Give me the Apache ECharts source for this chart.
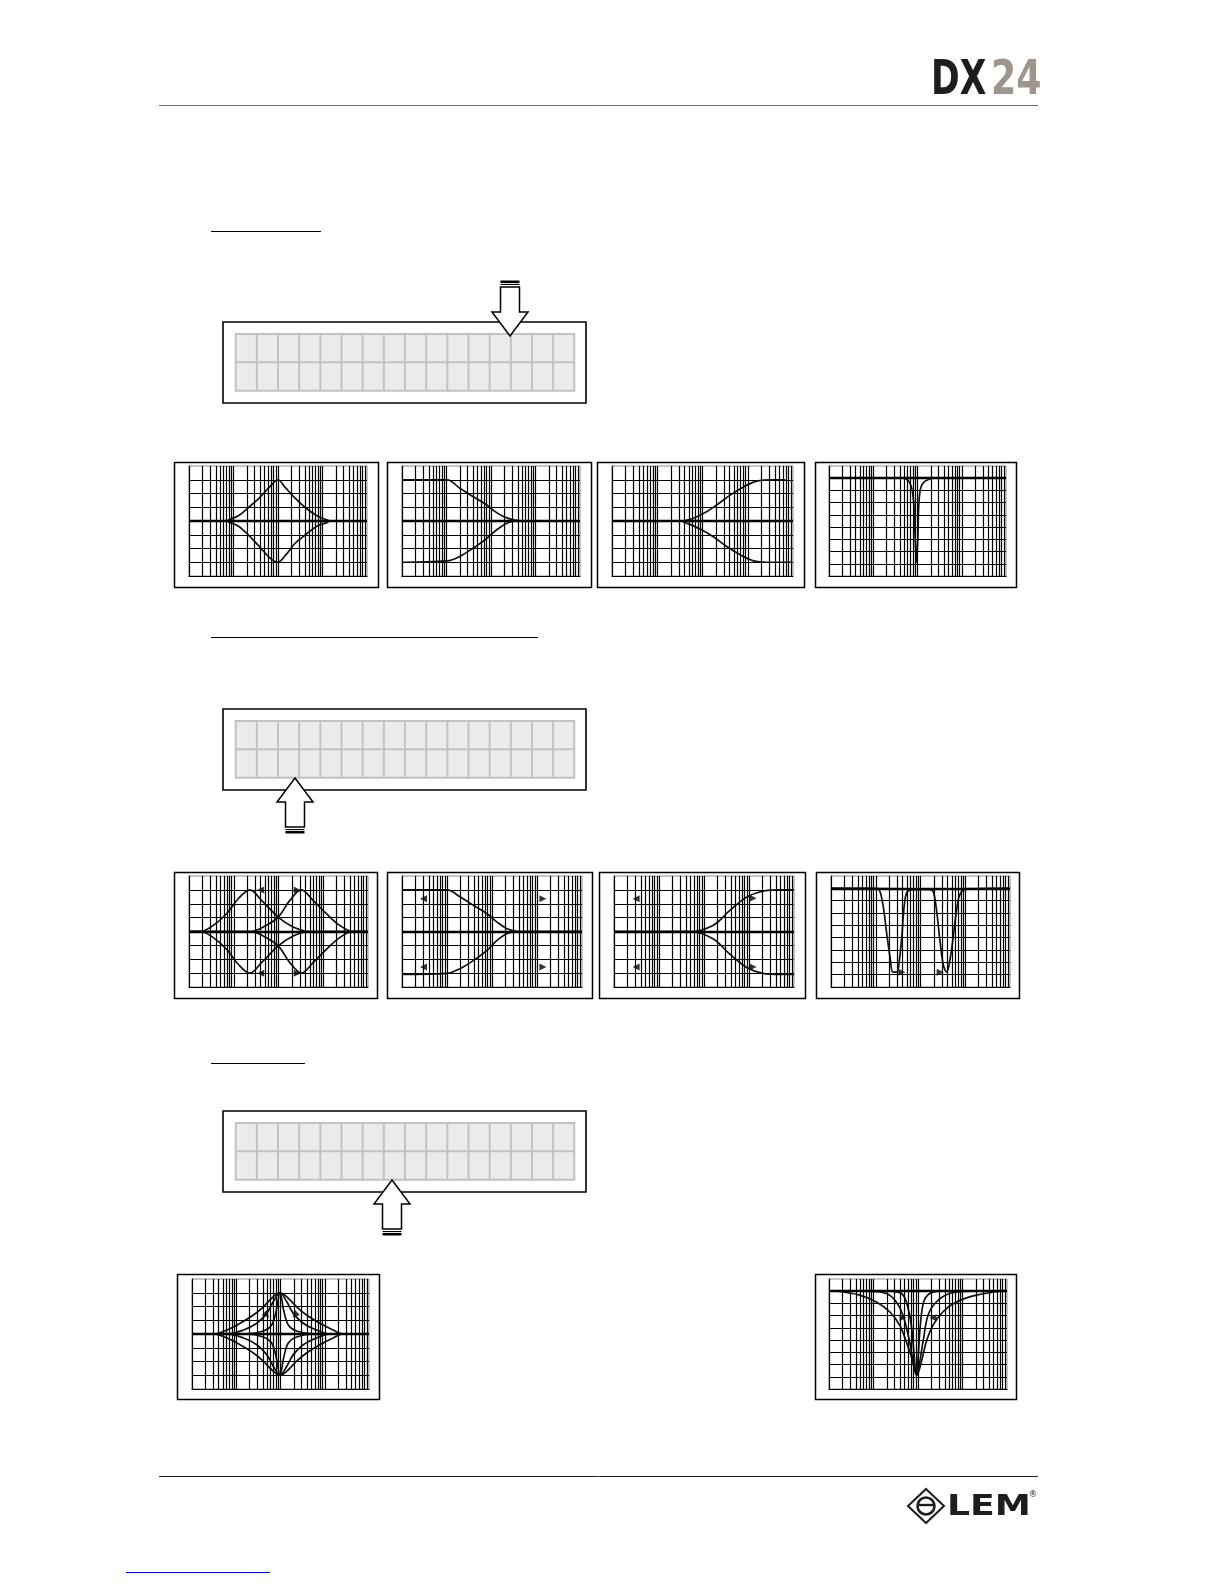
<!DOCTYPE html>
<html>
<head>
<meta charset="utf-8">
<title>DX24 - EQ</title>
<script src="https://cdn.jsdelivr.net/npm/echarts@6/dist/echarts.min.js"></script>
<style>
    html, body { margin: 0; padding: 0; background: #fff; }
    #page { width: 1224px; height: 1584px; }
</style>
</head>
<body>
<div id="page"></div>
<script>
// axes: frequency (Hz, log) and gain (dB)
var freqRange = [10, 100000];
var gainBell = [-20, 20];
var gainNotch = [-40, 5];
var gainStep = 5;

// row 1 : peaking, low shelf, high shelf, notch  [Hz, dB]
var r1BellBoost = [[10,0],[70,0],[84,0.6],[129,1.9],[217,4.9],[397,8.7],[666,12.6],[1000,15],[1450,12.2],[2430,8.3],[4090,4.9],[7490,1.9],[12570,0.4],[14930,0],[100000,0]];
var r1BellCut = [[10,0],[70,0],[84,-0.6],[129,-1.9],[217,-5.1],[397,-9.6],[666,-13.5],[1000,-15],[1450,-12.6],[2430,-8.1],[4090,-5.1],[7490,-1.9],[12570,-0.6],[14930,0],[100000,0]];
var r1LowShelfBoost = [[10,15],[102,15],[203,11.8],[405,8.8],[807,5.8],[1240,3.4],[1907,1.6],[3198,0.4],[5358,0],[100000,0]];
var r1LowShelfCut = [[10,-15],[102,-14.5],[203,-12.8],[405,-9.8],[807,-6.3],[1352,-3.2],[2265,-0.8],[3795,0],[100000,0]];
var r1HighShelfBoost = [[16,0],[317,0],[627,1.0],[1237,3.4],[2060,5.8],[4077,9.4],[8057,12.4],[15930,14.5],[31420,15],[67610,15]];
var r1HighShelfCut = [[16,0],[317,0],[446,-0.8],[880,-2.9],[1738,-5.7],[3434,-9.3],[6792,-12.3],[13430,-14.5],[26500,-15],[95050,-15]];
var r1Notch = [[10,0],[473,0],[615,-1.0],[731,-3.7],[826,-10.5],[885,-24.2],[949,-34.5],[1018,-24.2],[1072,-10.5],[1169,-4.4],[1391,-1.6],[1899,-0.3],[2264,0],[100000,0]];

// row 2 : two bands with sweep arrows
var r2BellLowBoost = [[10,0],[17.6,0],[34.9,2.2],[69.2,6.4],[126,11.8],[230,15],[418,11.2],[984,5.2],[2125,1.6],[4217,0.1],[5935,0],[100000,0]];
var r2BellLowCut = [[10,0],[17.6,0],[34.9,-2.2],[69.2,-6.4],[126,-11.8],[230,-15],[418,-11.2],[984,-5.2],[2125,-1.6],[4217,-0.1],[5935,0],[100000,0]];
var r2BellHighBoost = [[10,0],[230,0],[455,1.6],[984,5.2],[1791,11.2],[3258,15],[5935,11.2],[11780,6.4],[23360,2.2],[46350,0],[100000,0]];
var r2BellHighCut = [[10,0],[230,0],[455,-1.6],[984,-5.2],[1791,-11.2],[3258,-15],[5935,-11.2],[11780,-6.4],[23360,-2.2],[46350,0],[100000,0]];
var r2BellMarks = [[400,15,'left'],[2620,15,'right'],[400,-15,'left'],[2620,-15,'right']];
var r2LowShelfBoost = [[10,15],[100,15],[198,12.4],[391,9.4],[774,6.4],[1291,3.4],[2154,1.0],[3594,0.1],[5995,0],[100000,0]];
var r2LowShelfCut = [[10,-15.5],[100,-15.1],[198,-13.3],[391,-10.4],[774,-6.8],[1291,-3.2],[2154,-0.8],[3594,-0.1],[5995,0],[100000,0]];
var r2LowShelfMarks = [[30,11.8,'left'],[13500,11.8,'right'],[30,-12.8,'left'],[13500,-12.8,'right']];
var r2HighShelfBoost = [[10,0],[480,0],[1585,2.2],[3700,7.5],[8700,12.3],[20000,14.5],[48000,15],[100000,15]];
var r2HighShelfCut = [[10,0],[480,0],[1585,-2.6],[3700,-8.1],[8700,-12.9],[20000,-15.1],[48000,-15.5],[100000,-15.5]];
var r2HighShelfMarks = [[31,11.8,'left'],[12300,12,'right'],[31,-12.8,'left'],[12300,-12.8,'right']];
var r2NotchLow = [[10,0],[106,0],[126,-1.6],[150,-8.4],[178,-19.1],[211,-28.6],[241,-34],[297,-34],[340,-28.6],[384,-19.1],[433,-7.0],[496,-1.6],[641,-0.5],[1384,-0.3],[100000,0]];
var r2NotchHigh = [[10,0],[1644,-0.5],[1951,-1.6],[2314,-9.7],[2746,-21.8],[3259,-31.3],[3866,-34],[4588,-28.6],[5443,-19.1],[6458,-8.4],[7666,-2.3],[10800,-0.3],[100000,0]];
var r2NotchMarks = [[384,-34,'right'],[2746,-34,'right']];

// row 3 : Q variation
var r3BellWideBoost = [[10,0],[30.8,0],[61.4,1.45],[122,3.9],[244,6.9],[410,9.9],[632,13.0],[975,15],[1501,13.0],[2312,9.9],[3881,6.9],[7745,3.9],[15460,1.45],[25990,0],[100000,0]];
var r3BellMidBoost = [[10,0],[61.4,0],[146,1.45],[291,3.9],[488,7.5],[690,11.8],[975,15],[1377,11.8],[1946,7.5],[3266,3.9],[6516,1.45],[13000,0],[100000,0]];
var r3BellNarrowBoost = [[10,0],[173,0],[410,1.1],[632,3.3],[792,8.1],[975,15],[1199,8.1],[1501,3.3],[2312,1.1],[5483,0],[100000,0]];
var r3BellWideCut = [[10,0],[30.8,0],[61.4,-1.45],[122,-3.9],[244,-6.9],[410,-9.9],[632,-13.0],[975,-15],[1501,-13.0],[2312,-9.9],[3881,-6.9],[7745,-3.9],[15460,-1.45],[25990,0],[100000,0]];
var r3BellMidCut = [[10,0],[61.4,0],[146,-1.45],[291,-3.9],[488,-7.5],[690,-11.8],[975,-15],[1377,-11.8],[1946,-7.5],[3266,-3.9],[6516,-1.45],[13000,0],[100000,0]];
var r3BellNarrowCut = [[10,0],[173,0],[410,-1.1],[632,-3.3],[792,-8.1],[975,-15],[1199,-8.1],[1501,-3.3],[2312,-1.1],[5483,0],[100000,0]];
var r3BellMarks = [[488,6.9,'downRight'],[2130,6.9,'downLeft']];
var r3NotchWide = [[15.9,0],[48.9,-1.6],[116,-4.4],[231,-8.4],[387,-13.9],[547,-20.7],[773,-28.9],[950,-34.3],[1189,-28.9],[1538,-20.7],[2173,-13.9],[3648,-8.4],[7268,-4.4],[20460,-1.6],[68700,0]];
var r3NotchMid = [[69,0],[194,-0.95],[326,-4.4],[460,-9.8],[650,-20.7],[918,-34.3],[1296,-20.7],[1679,-9.8],[2583,-4.4],[5152,-0.95],[14490,0]];
var r3NotchNarrow = [[231,0],[422,-0.95],[547,-4.4],[708,-13.9],[918,-33.7],[1128,-13.9],[1341,-4.4],[1829,-0.95],[3070,0]];
var r3NotchMarks = [[460,-10.9,'right'],[2173,-10.9,'left']];

(function () {
    var myChart = echarts.init(document.getElementById('page'), null, { renderer: 'canvas' });

    // panel layout: plot = [left, top, width, height], box = outer frame
    var panels = [
        { plot: [189, 466, 178, 110], box: [174.5, 462.5, 204, 125], gain: gainBell, curves: [r1BellBoost, r1BellCut], marks: [] },
        { plot: [402, 466, 178, 110], box: [387.5, 462.5, 204, 125], gain: gainBell, curves: [r1LowShelfBoost, r1LowShelfCut], marks: [] },
        { plot: [612, 466, 181, 110], box: [597.5, 462.5, 207, 125], gain: gainBell, curves: [r1HighShelfBoost, r1HighShelfCut], marks: [] },
        { plot: [829, 466, 177, 110], box: [815.5, 462.5, 201, 125], gain: gainNotch, curves: [r1Notch], marks: [] },

        { plot: [189, 876, 179, 111], box: [174.5, 872.5, 203, 126], gain: gainBell, curves: [r2BellLowBoost, r2BellLowCut, r2BellHighBoost, r2BellHighCut], marks: r2BellMarks },
        { plot: [402, 876, 180, 111], box: [387.5, 872.5, 205, 126], gain: gainBell, curves: [r2LowShelfBoost, r2LowShelfCut], marks: r2LowShelfMarks },
        { plot: [614, 876, 180, 111], box: [599.5, 872.5, 206, 126], gain: gainBell, curves: [r2HighShelfBoost, r2HighShelfCut], marks: r2HighShelfMarks },
        { plot: [831, 876, 179, 111], box: [816.5, 872.5, 203, 126], gain: gainNotch, curves: [r2NotchLow, r2NotchHigh], marks: r2NotchMarks },

        { plot: [192, 1279, 177, 110], box: [177.5, 1274.5, 202, 125], gain: gainBell, curves: [r3BellWideBoost, r3BellMidBoost, r3BellNarrowBoost, r3BellWideCut, r3BellMidCut, r3BellNarrowCut], marks: r3BellMarks },
        { plot: [829, 1279, 178, 110], box: [815.5, 1274.5, 201, 125], gain: gainNotch, curves: [r3NotchWide, r3NotchMid, r3NotchNarrow], marks: r3NotchMarks }
    ];

    // vertical log grid: 2..9 and decades of each decade, 0 dB line heavy
    var gridLines = [];
    for (var d = freqRange[0]; d < freqRange[1]; d *= 10) {
        for (var m = 2; m <= 10; m++) {
            if (m * d < freqRange[1]) gridLines.push({ xAxis: m * d });
        }
    }
    gridLines.push({ yAxis: 0, lineStyle: { width: 2.4 } });

    var arrowPath = {
        right: 'path://M0,0L10,5L0,10Z',
        left: 'path://M10,0L0,5L10,10Z'
    };
    var arrowTurn = { right: ['right', 0], left: ['left', 0], downRight: ['right', -45], downLeft: ['left', 45] };

    var series = [];
    panels.forEach(function (p, i) {
        series.push({
            type: 'line',
            xAxisIndex: i,
            yAxisIndex: i,
            data: [[freqRange[0], 0]],
            symbol: 'none',
            silent: true,
            lineStyle: { opacity: 0 },
            markLine: {
                silent: true,
                symbol: 'none',
                label: { show: false },
                lineStyle: { color: '#000', width: 1.2, type: 'solid' },
                data: gridLines
            }
        });
        p.curves.forEach(function (c) {
            series.push({
                type: 'line',
                xAxisIndex: i,
                yAxisIndex: i,
                data: c,
                smooth: 0.35,
                symbol: 'none',
                silent: true,
                lineStyle: { color: '#111', width: 1.7 }
            });
        });
        if (p.marks.length) {
            series.push({
                type: 'scatter',
                xAxisIndex: i,
                yAxisIndex: i,
                silent: true,
                symbolSize: 7,
                itemStyle: { color: '#000' },
                data: p.marks.map(function (mk) {
                    var t = arrowTurn[mk[2]];
                    return { value: [mk[0], mk[1]], symbol: arrowPath[t[0]], symbolRotate: t[1] };
                })
            });
        }
    });

    // LCD display: 16 x 2 cells
    function lcdBox(x, y) {
        var w = 363, h = 81, cx = x + 12.7, cy = y + 12, cw = 338.6, ch = 56.7;
        var els = [
            { type: 'rect', shape: { x: x, y: y, width: w, height: h }, style: { fill: '#fff', stroke: '#000', lineWidth: 1.6 } },
            { type: 'rect', shape: { x: cx, y: cy, width: cw, height: ch }, style: { fill: '#ebebeb', stroke: '#c2c2c2', lineWidth: 2 } },
            { type: 'line', shape: { x1: cx, y1: cy + ch / 2, x2: cx + cw, y2: cy + ch / 2 }, style: { stroke: '#c2c2c2', lineWidth: 2 } }
        ];
        for (var k = 1; k < 16; k++) {
            els.push({ type: 'line', shape: { x1: cx + cw * k / 16, y1: cy, x2: cx + cw * k / 16, y2: cy + ch }, style: { stroke: '#c2c2c2', lineWidth: 2 } });
        }
        return els;
    }

    // cursor arrow, dir 1 = pointing down, -1 = pointing up
    function cursorArrow(cx, ty, dir) {
        var s = -dir;
        return [
            { type: 'polygon', shape: { points: [
                [cx - 9.5, ty + s * 49], [cx + 9.5, ty + s * 49], [cx + 9.5, ty + s * 24], [cx + 18, ty + s * 24],
                [cx, ty], [cx - 18, ty + s * 24], [cx - 9.5, ty + s * 24]
            ] }, style: { fill: '#fff', stroke: '#000', lineWidth: 1.5 } },
            { type: 'line', shape: { x1: cx - 9.5, y1: ty + s * 51.5, x2: cx + 9.5, y2: ty + s * 51.5 }, style: { stroke: '#000', lineWidth: 1 } },
            { type: 'line', shape: { x1: cx - 9.5, y1: ty + s * 54.2, x2: cx + 9.5, y2: ty + s * 54.2 }, style: { stroke: '#000', lineWidth: 2.6 } }
        ];
    }

    var logoFont = 'bold 48px "Liberation Sans Narrow", "DejaVu Sans Condensed", sans-serif';
    var graphic = [
        { type: 'line', shape: { x1: 159, y1: 105.5, x2: 1038, y2: 105.5 }, style: { stroke: '#6e6e6e', lineWidth: 1 } },
        { type: 'text', x: 931, y: 82, scaleX: 0.8, style: { text: 'DX', font: logoFont, fill: '#1d1d1b', textAlign: 'left', textVerticalAlign: 'middle' } },
        { type: 'text', x: 991, y: 82, scaleX: 0.84, style: { text: '24', font: logoFont, fill: '#9e958c', textAlign: 'left', textVerticalAlign: 'middle' } },

        { type: 'line', shape: { x1: 211, y1: 231.5, x2: 321, y2: 231.5 }, style: { stroke: '#000', lineWidth: 1 } },
        { type: 'line', shape: { x1: 211, y1: 637.5, x2: 538, y2: 637.5 }, style: { stroke: '#000', lineWidth: 1 } },
        { type: 'line', shape: { x1: 211, y1: 1063.5, x2: 305, y2: 1063.5 }, style: { stroke: '#000', lineWidth: 1 } },

        { type: 'line', shape: { x1: 159, y1: 1476.5, x2: 1038, y2: 1476.5 }, style: { stroke: '#222', lineWidth: 1 } },
        { type: 'line', shape: { x1: 126, y1: 1572.5, x2: 270, y2: 1572.5 }, style: { stroke: '#0000ee', lineWidth: 1 } }
    ];
    graphic = graphic
        .concat(lcdBox(223, 322)).concat(cursorArrow(510, 336, 1))
        .concat(lcdBox(223, 709)).concat(cursorArrow(295, 778, -1))
        .concat(lcdBox(223, 1111)).concat(cursorArrow(392, 1180, -1));

    panels.forEach(function (p) {
        graphic.push({ type: 'rect', shape: { x: p.box[0], y: p.box[1], width: p.box[2], height: p.box[3] }, style: { fill: 'none', stroke: '#000', lineWidth: 1.5 } });
    });

    // LEM logo
    graphic.push(
        { type: 'polygon', shape: { points: [[926, 1489], [944, 1506], [926, 1523], [908, 1506]] }, style: { fill: 'none', stroke: '#1d1d1b', lineWidth: 2 } },
        { type: 'circle', shape: { cx: 926, cy: 1506, r: 8.5 }, style: { fill: '#fff', stroke: '#1d1d1b', lineWidth: 2.6 } },
        { type: 'line', shape: { x1: 919, y1: 1505, x2: 934, y2: 1505 }, style: { stroke: '#1d1d1b', lineWidth: 2.4 } },
        { type: 'text', x: 947, y: 1507, scaleX: 1.25, style: { text: 'LEM', font: 'bold 29px "DejaVu Sans", sans-serif', fill: '#1d1d1b', textAlign: 'left', textVerticalAlign: 'middle' } },
        { type: 'text', x: 1033, y: 1495, style: { text: '®', font: '8px "DejaVu Sans", sans-serif', fill: '#1d1d1b', textAlign: 'center', textVerticalAlign: 'middle' } }
    );

    var option = {
        backgroundColor: '#fff',
        animation: false,
        grid: panels.map(function (p) {
            return { left: p.plot[0], top: p.plot[1], width: p.plot[2], height: p.plot[3], show: true, borderColor: '#8c8c8c', borderWidth: 1, containLabel: false };
        }),
        xAxis: panels.map(function (p, i) {
            return {
                type: 'log', logBase: 10, gridIndex: i, min: freqRange[0], max: freqRange[1],
                axisLine: { show: true, onZero: false, lineStyle: { color: '#000', width: 1.2 } },
                axisTick: { show: false }, axisLabel: { show: false }, splitLine: { show: false }
            };
        }),
        yAxis: panels.map(function (p, i) {
            return {
                type: 'value', gridIndex: i, min: p.gain[0], max: p.gain[1], interval: gainStep,
                axisLine: { show: true, onZero: false, lineStyle: { color: '#000', width: 1.2 } },
                axisTick: { show: false }, axisLabel: { show: false },
                splitLine: { show: true, showMaxLine: false, lineStyle: { color: '#000', width: 1.2 } }
            };
        }),
        graphic: graphic,
        series: series
    };

    myChart.setOption(option);

    window.addEventListener('resize', function () {
        myChart.resize();
    });
})();
</script>
</body>
</html>
